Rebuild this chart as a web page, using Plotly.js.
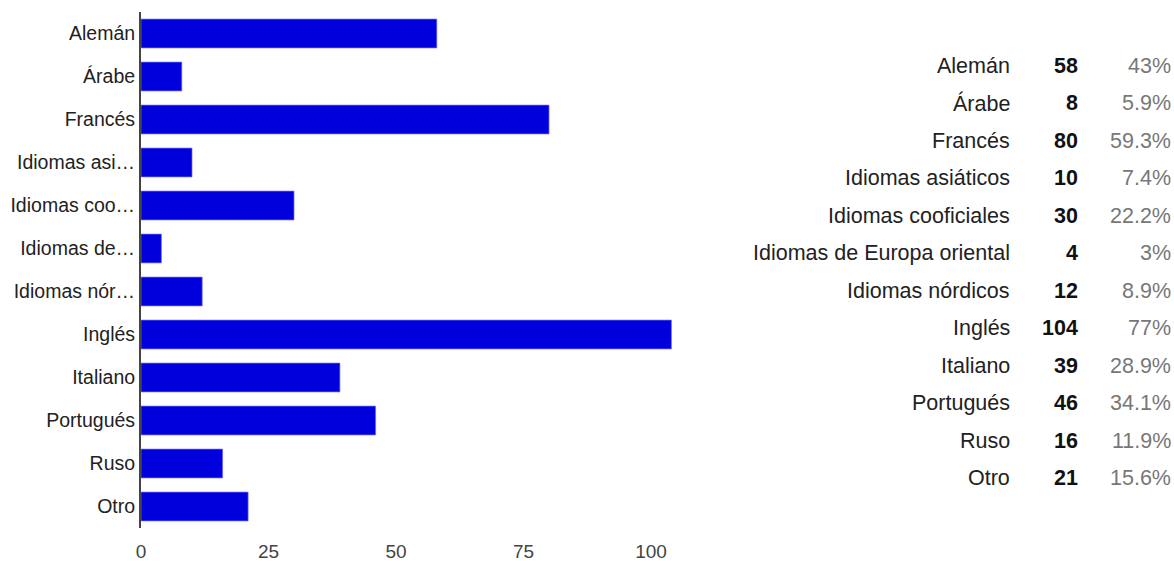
<!DOCTYPE html>
<html>
<head>
<meta charset="utf-8">
<script src="https://cdn.plot.ly/plotly-3.0.1.min.js"></script>
<style>
  html, body { margin: 0; padding: 0; background: #fff; }
  #chart { width: 1174px; height: 561px; }
</style>
</head>
<body>
<div id="chart"></div>
<script>
// Languages and number of responses
const categories = ["Alemán", "Árabe", "Francés", "Idiomas asiáticos", "Idiomas cooficiales",
  "Idiomas de Europa oriental", "Idiomas nórdicos", "Inglés", "Italiano", "Portugués", "Ruso", "Otro"];
const counts = [58, 8, 80, 10, 30, 4, 12, 104, 39, 46, 16, 21];
const percents = ["43%", "5.9%", "59.3%", "7.4%", "22.2%", "3%", "8.9%", "77%", "28.9%", "34.1%", "11.9%", "15.6%"];
// Shortened names shown beside the bars
const tickLabels = ["Alemán", "Árabe", "Francés", "Idiomas asi…", "Idiomas coo…", "Idiomas de…",
  "Idiomas nór…", "Inglés", "Italiano", "Portugués", "Ruso", "Otro"];
const xTicks = [0, 25, 50, 75, 100];

const FONT = '"Liberation Sans", Arial, sans-serif';

const bars = {
  type: 'bar',
  orientation: 'h',
  y: categories,
  x: counts,
  marker: { color: '#0000dd', line: { color: 'rgba(110,110,255,0.7)', width: 1 } },
  hoverinfo: 'x+y'
};

// Summary table to the right: name, count (bold), percentage (grey)
const annotations = [];
categories.forEach((name, i) => {
  annotations.push({ xref: 'paper', yref: 'y2', x: 0.8432, y: i, xanchor: 'right', yanchor: 'middle',
    text: name, showarrow: false, font: { family: FONT, size: 21.5, color: '#222' } });
  annotations.push({ xref: 'paper', yref: 'y2', x: 0.9091, y: i, xanchor: 'right', yanchor: 'middle',
    text: '<b>' + counts[i] + '</b>', showarrow: false, font: { family: FONT, size: 21.5, color: '#111' } });
  annotations.push({ xref: 'paper', yref: 'y2', x: 0.9995, y: i, xanchor: 'right', yanchor: 'middle',
    text: percents[i], showarrow: false, font: { family: FONT, size: 21.5, color: '#777' } });
});

const layout = {
  width: 1174,
  height: 561,
  margin: { l: 141, r: 0, t: 12, b: 33 },
  paper_bgcolor: '#fff',
  plot_bgcolor: 'rgba(0,0,0,0)',
  showlegend: false,
  bargap: 0.33,
  font: { family: FONT },
  xaxis: {
    domain: [0, 0.5184],
    range: [0, 105],
    tickvals: xTicks,
    showgrid: false,
    zeroline: false,
    showline: false,
    ticks: '',
    ticklabelstandoff: 10,
    tickfont: { family: FONT, size: 19, color: '#444' },
    fixedrange: true
  },
  yaxis: {
    type: 'category',
    autorange: 'reversed',
    tickvals: categories,
    ticktext: tickLabels,
    showgrid: false,
    zeroline: false,
    showline: true,
    linecolor: '#444',
    linewidth: 2,
    ticks: '',
    tickfont: { family: FONT, size: 19.5, color: '#222' },
    fixedrange: true
  },
  yaxis2: {
    domain: [0.0607, 0.9316],
    range: [categories.length - 0.5, -0.5],
    anchor: 'x',
    visible: false,
    fixedrange: true
  },
  annotations: annotations
};

Plotly.newPlot('chart', [bars], layout, { displayModeBar: false, staticPlot: true });
</script>
</body>
</html>
